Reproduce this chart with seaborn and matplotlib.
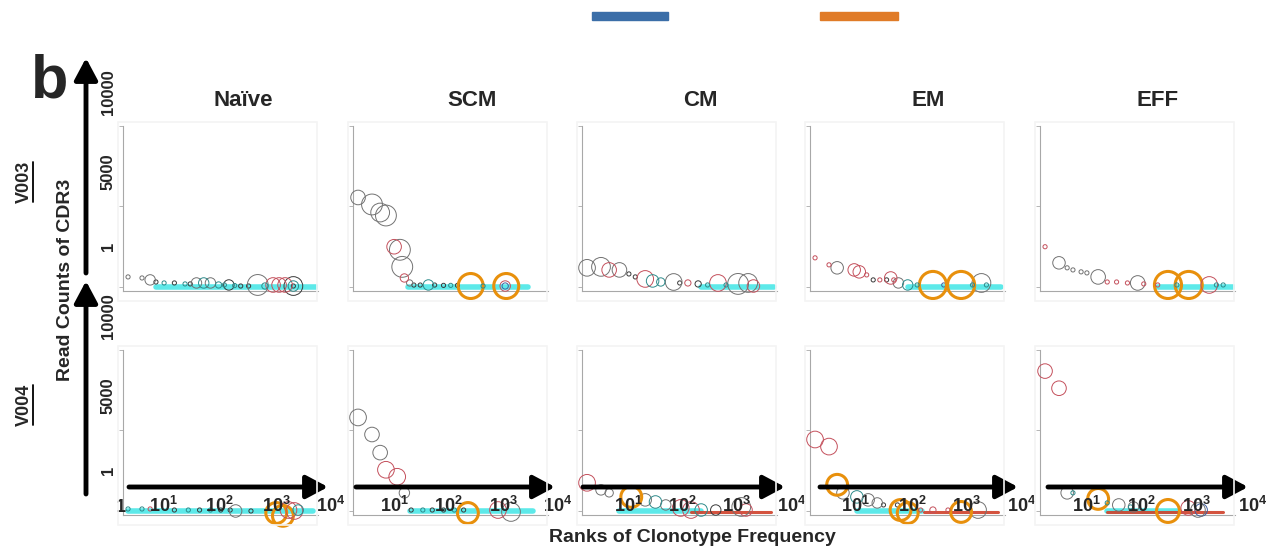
import numpy as np
import pandas as pd
import matplotlib
matplotlib.use("Agg")
import matplotlib.pyplot as plt
import seaborn as sns
from matplotlib.patches import Rectangle

sns.set_style("white")
plt.rcParams["font.family"] = ["Liberation Sans", "DejaVu Sans"]
plt.rcParams["mathtext.fontset"] = "custom"
plt.rcParams["mathtext.bf"] = "Liberation Sans:bold"
plt.rcParams["mathtext.rm"] = "Liberation Sans:bold"
plt.rcParams["mathtext.default"] = "bf"

subsets = ["Naïve", "SCM", "CM", "EM", "EFF"]
donors = ["V003", "V004"]
rank_labels = ["1", "$10^{1}$", "$10^{2}$", "$10^{3}$", "$10^{4}$"]
read_labels = ["10000", "5000", "1"]

# clone: (rank, read count, clone size, colour group)
v003_naive = [
    (1, 625, 2, "gray"), (2, 560, 2, "gray"), (3, 440, 5, "gray"), (4, 310, 2, "dark"),
    (6, 250, 2, "teal"), (10, 250, 2, "dark"), (17, 190, 2, "teal"), (22, 190, 2, "dark"),
    (30, 250, 5, "gray"), (43, 250, 5, "teal"), (60, 250, 5, "gray"), (90, 125, 3, "teal"),
    (120, 125, 2, "teal"), (150, 125, 5, "dark"), (200, 90, 2, "teal"), (270, 60, 2, "dark"),
    (400, 60, 2, "dark"), (630, 125, 10, "gray"), (900, 60, 3, "teal"), (1350, 125, 7, "red"),
    (1820, 125, 7, "red"), (2450, 125, 7, "red"), (3700, 60, 9, "dark"), (3700, 60, 5, "teal"),
    (3700, 60, 2, "dark"),
]
v003_scm = [
    (1, 5560, 7, "gray"), (2, 5125, 10, "gray"), (3, 4625, 9, "gray"), (4, 4440, 10, "gray"),
    (6, 2500, 7, "red"), (8, 2310, 10, "gray"), (9, 1250, 10, "gray"), (10, 560, 4, "red"),
    (13, 250, 3, "gray"), (16, 120, 2, "dark"), (22, 120, 2, "dark"), (33, 125, 5, "teal"),
    (45, 120, 2, "dark"), (70, 100, 2, "dark"), (100, 100, 2, "teal"), (140, 100, 2, "dark"),
    (270, 60, 12, "orange"), (500, 60, 2, "teal"), (1580, 60, 12, "orange"),
    (1500, 60, 5, "red"), (1500, 60, 3, "blue"),
]
v003_cm = [
    (1, 1190, 8, "gray"), (2, 1250, 9, "gray"), (3, 1060, 7, "red"), (5, 1060, 7, "gray"),
    (8, 810, 2, "dark"), (11, 625, 2, "dark"), (18, 500, 8, "red"), (26, 375, 6, "teal"),
    (39, 310, 4, "teal"), (74, 310, 8, "gray"), (100, 250, 2, "dark"), (150, 250, 3, "red"),
    (250, 190, 3, "dark"), (400, 125, 2, "teal"), (670, 250, 8, "red"), (1000, 125, 2, "teal"),
    (1820, 190, 10, "gray"), (3000, 250, 9, "gray"), (3900, 60, 6, "red"),
]
v003_em = [
    (1, 1810, 2, "red"), (2, 1375, 2, "red"), (3, 1190, 6, "gray"), (7, 1060, 6, "red"),
    (9, 940, 6, "red"), (13, 750, 2, "red"), (18, 440, 2, "dark"), (25, 440, 2, "red"),
    (35, 440, 2, "dark"), (43, 560, 6, "red"), (50, 440, 2, "red"), (63, 250, 5, "gray"),
    (100, 125, 5, "teal"), (160, 125, 2, "teal"), (350, 125, 13, "orange"), (600, 125, 2, "blue"),
    (1420, 125, 13, "orange"), (2500, 125, 2, "teal"), (3900, 250, 9, "gray"), (5000, 125, 2, "teal"),
]
v003_eff = [
    (1, 2500, 2, "red"), (2, 1500, 6, "gray"), (3, 1190, 2, "gray"), (4, 1060, 2, "gray"),
    (6, 940, 2, "gray"), (8, 875, 2, "gray"), (14, 625, 7, "gray"), (22, 310, 2, "red"),
    (35, 310, 2, "red"), (60, 250, 2, "red"), (100, 250, 7, "gray"), (135, 190, 2, "red"),
    (270, 125, 2, "red"), (450, 125, 13, "orange"), (700, 125, 2, "teal"), (1260, 125, 13, "orange"),
    (3500, 125, 8, "red"), (5000, 125, 2, "teal"), (7000, 125, 2, "teal"),
]
v004_naive = [
    (1, 125, 2, "teal"), (2, 125, 2, "teal"), (3, 125, 2, "red"), (10, 60, 2, "dark"),
    (20, 60, 2, "teal"), (35, 60, 2, "dark"), (60, 60, 2, "teal"), (100, 60, 2, "dark"),
    (160, 60, 2, "dark"), (210, 0, 6, "gray"), (450, 0, 2, "dark"), (1580, -125, 10, "orange"),
    (2200, -300, 10, "orange"), (2900, 60, 8, "red"), (3900, 0, 8, "red"), (4700, 60, 5, "teal"),
]
v004_scm = [
    (1, 5810, 8, "gray"), (2, 4750, 7, "gray"), (3, 3625, 7, "gray"), (4, 2560, 8, "red"),
    (7, 2125, 8, "red"), (10, 1125, 5, "gray"), (14, 60, 2, "dark"), (25, 60, 2, "teal"),
    (40, 60, 2, "dark"), (70, 60, 2, "dark"), (120, 60, 2, "teal"), (190, 60, 2, "dark"),
    (235, -125, 10, "orange"), (1050, 60, 8, "red"), (2000, -60, 9, "gray"),
]
v004_cm = [
    (1, 1750, 8, "red"), (2, 1310, 5, "gray"), (3, 1125, 4, "gray"), (9, 875, 10, "orange"),
    (18, 690, 6, "gray"), (30, 560, 6, "teal"), (50, 375, 5, "gray"), (105, 190, 8, "red"),
    (175, 60, 8, "red"), (290, 60, 6, "teal"), (600, 60, 5, "dark"), (2130, 250, 9, "gray"),
    (2700, 60, 6, "red"),
]
v004_em = [
    (1, 4440, 8, "red"), (2, 4000, 8, "red"), (3, 1625, 10, "orange"), (4, 1125, 6, "gray"),
    (8, 875, 6, "teal"), (14, 690, 6, "gray"), (22, 500, 5, "gray"), (30, 375, 2, "dark"),
    (60, 375, 2, "dark"), (70, 60, 10, "orange"), (100, -125, 10, "orange"), (190, 60, 2, "red"),
    (350, 60, 3, "red"), (740, 60, 2, "red"), (1420, -60, 10, "orange"), (3300, 60, 8, "gray"),
]
v004_eff = [
    (1, 8690, 7, "red"), (2, 7625, 7, "red"), (3, 1125, 6, "gray"), (4, 1125, 2, "teal"),
    (14, 750, 10, "orange"), (22, 500, 2, "teal"), (39, 375, 6, "gray"), (70, 250, 2, "teal"),
    (81, 250, 5, "gray"), (450, 0, 11, "orange"), (1230, 190, 7, "red"), (2000, 60, 7, "gray"),
    (2340, 60, 6, "blue"),
]

# rank span of the dense low-count tail per subset
v003_cyan = [(4, 11700), (12, 4700), (290, 11000), (100, 10500), (270, 11700)]
v004_cyan = [(1, 10000), (13, 6000), (5, 290), (8, 200), (22, 700)]
v004_red = [None, None, (175, 9500), (220, 9100), (22, 7000)]

palette = {"gray": "#727272", "dark": "#3a3a3a", "red": "#c4505c", "teal": "#2e8b8b",
           "orange": "#e8900c", "blue": "#4060a0"}

clones = [[v003_naive, v003_scm, v003_cm, v003_em, v003_eff],
          [v004_naive, v004_scm, v004_cm, v004_em, v004_eff]]
cyan = [v003_cyan, v004_cyan]
red = [[None] * 5, v004_red]

fig = plt.figure(figsize=(12.77, 5.48), dpi=100)
W, H = 1277, 548
col_left = [123, 353, 582, 810, 1040]
row_top = [126, 350]
panel_w, panel_h = 195, 165

for r in range(2):
    for c in range(5):
        L, T = col_left[c], row_top[r]
        fig.add_artist(Rectangle(((L - 5) / W, 1 - (T + panel_h + 10) / H), (panel_w + 4) / W,
                                 (panel_h + 14) / H, transform=fig.transFigure,
                                 fill=False, edgecolor="#f4f4f4", lw=1.2))
        ax = fig.add_axes([L / W, 1 - (T + panel_h) / H, panel_w / W, panel_h / H])
        ax.set_facecolor("none")
        ax.set_xscale("log")
        if cyan[r][c] is not None:
            a, b = cyan[r][c]
            sns.lineplot(x=[a, b], y=[20, 20], color="#40e6e6", lw=4, alpha=0.85, ax=ax, zorder=1)
        if red[r][c] is not None:
            a, b = red[r][c]
            sns.lineplot(x=[a, b], y=[-40, -40], color="#d0402a", lw=2.2, alpha=0.9, ax=ax, zorder=1)
        df = pd.DataFrame(clones[r][c], columns=["rank", "reads", "size", "group"])
        for group, part in df.groupby("group"):
            sns.scatterplot(data=part, x="rank", y="reads", s=(part["size"].to_numpy() * 1.5) ** 2,
                            facecolor="none", edgecolor=palette[group],
                            linewidth=2.2 if group == "orange" else 0.7,
                            ax=ax, legend=False, zorder=3, clip_on=False)
        ax.set_xlim(0.778, 12589)
        ax.set_ylim(-250, 10000)
        ax.set_xticks([])
        ax.xaxis.set_minor_locator(matplotlib.ticker.NullLocator())
        ax.set_yticks([0, 5000, 10000])
        ax.set_yticklabels([])
        ax.tick_params(axis="y", left=True, length=3, width=0.6, color="#aaaaaa")
        ax.set_xlabel("")
        ax.set_ylabel("")
        for s in ["top", "right"]:
            ax.spines[s].set_visible(False)
        for s in ["left", "bottom"]:
            ax.spines[s].set_color("#a8a8a8")
            ax.spines[s].set_linewidth(0.8)

# overlay in pixel coordinates for arrows and labels
over = fig.add_axes([0, 0, 1, 1])
over.set_xlim(0, W)
over.set_ylim(H, 0)
over.axis("off")
over.set_facecolor("none")

arrow = dict(arrowstyle="-|>,head_length=0.6,head_width=0.32", lw=3.5, color="black",
             mutation_scale=22, shrinkA=0, shrinkB=0)
over.annotate("", xy=(86, 58), xytext=(86, 273), arrowprops=arrow)
over.annotate("", xy=(86, 281), xytext=(86, 494), arrowprops=arrow)
for x0, x1 in [(129, 328), (356, 555), (583, 785), (820, 1018), (1048, 1248)]:
    over.annotate("", xy=(x1, 487), xytext=(x0, 487), arrowprops=arrow)

over.text(50, 82, "b", fontsize=44, fontweight="bold", ha="center", va="center")
for name, x in zip(subsets, [243, 472, 700, 928, 1158]):
    over.text(x, 100, name, fontsize=16, fontweight="bold", ha="center", va="center")

for top in [0, 224]:
    for lab, y in zip(read_labels, [92, 172, 246]):
        over.text(108, y + top, lab, fontsize=12, fontweight="bold", rotation=90,
                  ha="center", va="center")

for name, y in zip(donors, [182, 405]):
    over.text(24, y, name, fontsize=13, fontweight="bold", rotation=90, ha="center", va="center")
    over.plot([33, 33], [y - 20, y + 20], color="black", lw=1.3)

over.text(65, 280, "Read Counts of CDR3", fontsize=14, fontweight="bold", rotation=90,
          ha="center", va="center")
over.text(692, 537, "Ranks of Clonotype Frequency", fontsize=14, fontweight="bold",
          ha="center", va="center")

tick_x = [[121, 163, 219, 276, 331], [None, 394, 448, 503, 558], [None, 628, 682, 736, 792],
          [None, 855, 912, 966, 1022], [None, 1086, 1141, 1196, 1253]]
for xs in tick_x:
    for lab, x in zip(rank_labels, xs):
        if x is not None:
            over.text(x, 512, lab, fontsize=13, fontweight="bold", ha="center", va="baseline")

over.add_patch(Rectangle((592, 12), 76, 8, color="#3b6ea8"))
over.add_patch(Rectangle((820, 12), 78, 8, color="#e07b27"))

fig.savefig("out.png", dpi=100)
